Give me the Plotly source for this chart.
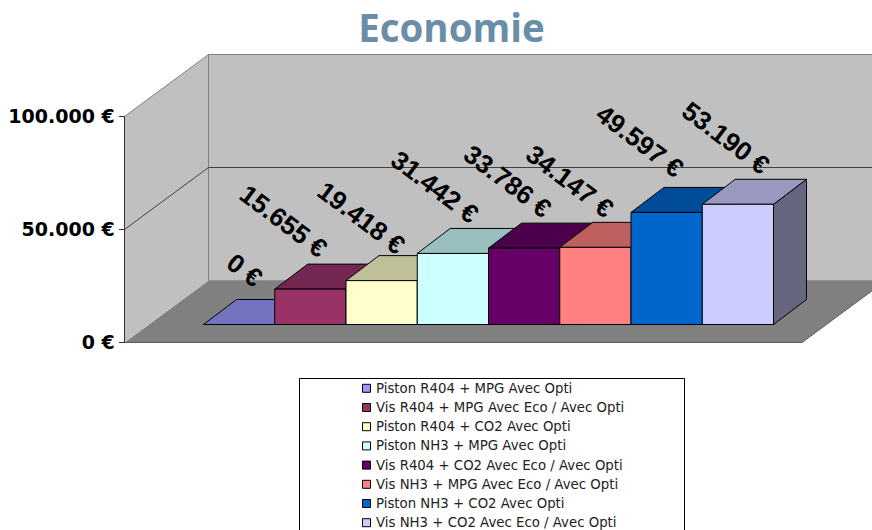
import plotly.graph_objects as go

# ---------- data ----------
categories = [
    "Piston R404 + MPG Avec Opti",
    "Vis R404 + MPG Avec Eco / Avec Opti",
    "Piston R404 + CO2 Avec Opti",
    "Piston NH3 + MPG Avec Opti",
    "Vis R404 + CO2 Avec Eco / Avec Opti",
    "Vis NH3 + MPG Avec Eco / Avec Opti",
    "Piston NH3 + CO2 Avec Opti",
    "Vis NH3 + CO2 Avec Eco / Avec Opti",
]
values = [0, 15655, 19418, 31442, 33786, 34147, 49597, 53190]
value_labels = ["0 €", "15.655 €", "19.418 €", "31.442 €", "33.786 €", "34.147 €", "49.597 €", "53.190 €"]
tick_values = [0, 50000, 100000]
tick_labels = ["0 €", "50.000 €", "100.000 €"]

# ---------- style ----------
front_colors = ["#9999FF", "#993366", "#FFFFCC", "#CCFFFF", "#660066", "#FF8080", "#0066CC", "#CCCCFF"]
top_colors = ["#7373BF", "#732650", "#BFBF99", "#99BFBF", "#4C004C", "#BF6060", "#004C99", "#9999BF"]
side_colors = ["#4D4D80", "#4D1A33", "#808066", "#668080", "#330033", "#804040", "#003366", "#666680"]
label_nudge = [(5.5, -55), (-27, -68), (-20, -63), (-18, -66), (-17, -67), (-26, -66), (-27, -71), (-12, -66)]

W, H = 872, 530
PX_PER_CAT = 71.25
PX_PER_EUR = 0.00226
ZERO_PY = 342.5
FIRST_PX = 203.5

BAR_DX = 33.0 / PX_PER_CAT
BAR_DY = 25.0 / PX_PER_EUR
BASE = 18.0 / PX_PER_EUR
WALL_DX = 84.0 / PX_PER_CAT
WALL_DY = 62.0 / PX_PER_EUR


def cx(px):
    return (px - FIRST_PX) / PX_PER_CAT - 0.5


def ey(py):
    return (ZERO_PY - py) / PX_PER_EUR


fig = go.Figure()


def poly(xs, ys, fill, line="rgba(0,0,0,0)", lw=1):
    fig.add_trace(go.Scatter(x=xs + xs[:1], y=ys + ys[:1], mode="lines", fill="toself", fillcolor=fill,
                             line=dict(color=line, width=lw), hoverinfo="skip", showlegend=False))


def seg(xs, ys, color, lw=1):
    fig.add_trace(go.Scatter(x=xs, y=ys, mode="lines", line=dict(color=color, width=lw),
                             hoverinfo="skip", showlegend=False))


xl, xr = cx(124.5), cx(802)
ymax = tick_values[-1]
# floor and walls
poly([xl, xl + WALL_DX, xr + WALL_DX, xr], [0, WALL_DY, WALL_DY, 0], "#808080")
poly([xl, xl + WALL_DX, xl + WALL_DX, xl], [0, WALL_DY, ymax + WALL_DY, ymax], "#C0C0C0")
poly([xl + WALL_DX, xr + WALL_DX, xr + WALL_DX, xl + WALL_DX],
     [WALL_DY, WALL_DY, ymax + WALL_DY, ymax + WALL_DY], "#C0C0C0")
# wall edges
seg([xl, xl + WALL_DX, xr + WALL_DX], [ymax, ymax + WALL_DY, ymax + WALL_DY], "#808080")
seg([xl + WALL_DX, xl + WALL_DX], [WALL_DY, ymax + WALL_DY], "#808080")
seg([xl, xl + WALL_DX, xr + WALL_DX], [tick_values[1], tick_values[1] + WALL_DY, tick_values[1] + WALL_DY], "#404040")
seg([xl, xr, xr + WALL_DX], [0, 0, WALL_DY], "#5A5A5A")
seg([xl + WALL_DX, xr + WALL_DX], [WALL_DY, WALL_DY], "#909090")
# axis line
seg([xl, xl], [0, ymax], "#303030")

# bars
for i, v in enumerate(values):
    a, b = i - 0.5, i + 0.5
    lo, hi = BASE, BASE + v
    poly([b, b + BAR_DX, b + BAR_DX, b], [lo, lo + BAR_DY, hi + BAR_DY, hi], side_colors[i], "#000000")
    poly([a, a + BAR_DX, b + BAR_DX, b], [hi, hi + BAR_DY, hi + BAR_DY, hi], top_colors[i], "#000000")
    poly([a, b, b, a], [lo, lo, hi, hi], front_colors[i], "#000000")

# value labels
for i, (v, t) in enumerate(zip(values, value_labels)):
    nx, ny = label_nudge[i]
    fig.add_annotation(x=i, y=BASE + v, xref="x", yref="y", text=t, showarrow=False, textangle=37,
                       xshift=nx, yshift=-ny, xanchor="center", yanchor="middle",
                       font=dict(family="Liberation Sans", size=26, color="#000000", weight="bold"))

# legend
LEG_TOP, LEG_STEP = 388.3, 19.2
legend_shapes = [dict(type="path", xref="paper", yref="paper", line=dict(color="#000000", width=1),
                      path=f"M {299.5/W} {-5/H} L {299.5/W} {1-378.5/H} L {684.5/W} {1-378.5/H} L {684.5/W} {-5/H}")]
for i, name in enumerate(categories):
    yc = LEG_TOP + i * LEG_STEP
    legend_shapes.append(dict(type="rect", xref="paper", yref="paper", x0=362.5 / W, x1=370.5 / W,
                              y0=1 - (yc - 4) / H, y1=1 - (yc + 4) / H,
                              fillcolor=front_colors[i], line=dict(color="#000000", width=1)))
    fig.add_annotation(x=374 / W, y=1 - yc / H, xref="paper", yref="paper", text=name, showarrow=False,
                       xanchor="left", yanchor="middle",
                       font=dict(family="DejaVu Sans", size=13.3, color="#222222"))

fig.update_layout(
    width=W, height=H, margin=dict(l=0, r=0, t=0, b=0),
    paper_bgcolor="#FFFFFF", plot_bgcolor="#FFFFFF", showlegend=False,
    title=dict(text="Economie", x=451.5 / W, xanchor="center", y=1 - 29 / H, yanchor="middle",
               font=dict(family="Open Sans", size=38.5, color="#6A8EA8", weight="bold")),
    xaxis=dict(visible=False, range=[cx(0), cx(W)], fixedrange=True),
    yaxis=dict(range=[ey(H), ey(0)], anchor="free", position=124.5 / W, tickvals=tick_values, ticktext=tick_labels,
               ticks="outside", ticklen=6, tickwidth=1, tickcolor="#303030", showgrid=False, zeroline=False,
               showline=False, fixedrange=True,
               tickfont=dict(family="DejaVu Sans", size=19, color="#000000", weight="bold")),
    shapes=legend_shapes,
)

fig.write_html("out.html", post_script="document.body.style.margin='0';window.dispatchEvent(new Event('resize'));",
               config={"displayModeBar": False})
